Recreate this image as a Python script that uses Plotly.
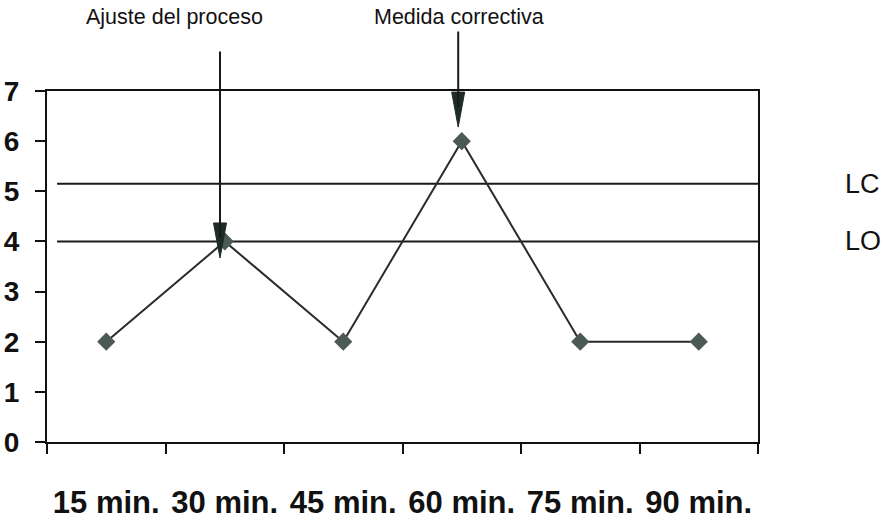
import plotly.graph_objects as go

categories = ["15 min.", "30 min.", "45 min.", "60 min.", "75 min.", "90 min."]
values = [2, 4, 2, 6, 2, 2]
y_ticks = [0, 1, 2, 3, 4, 5, 6, 7]
lc_value = 5.15
lo_value = 4.0
annot_texts = ["Ajuste del proceso", "Medida correctiva"]

FONT = "Liberation Sans, Arial, sans-serif"

fig = go.Figure()
fig.add_trace(go.Scatter(
    x=categories, y=values, mode="lines+markers",
    line=dict(color="#2b2b2b", width=2),
    marker=dict(symbol="diamond", size=14, color="#4b5a55"),
    showlegend=False, cliponaxis=False,
))

# Control lines (LC, LO)
for val, name in [(lc_value, "LC"), (lo_value, "LO")]:
    fig.add_shape(type="line", xref="x", yref="y", x0=-0.415, x1=6.06, y0=val, y1=val,
                  line=dict(color="#1a1a1a", width=2), layer="below")
    fig.add_annotation(x=1.12, xref="paper", y=val, yref="y", text=name, showarrow=False,
                       xanchor="left", yanchor="middle",
                       font=dict(family=FONT, size=27, color="#111111"))

# Annotation texts
fig.add_annotation(x=0.179, xref="paper", y=1.211, yref="paper", text=annot_texts[0],
                   showarrow=False, xanchor="center", yanchor="middle",
                   font=dict(family=FONT, size=21.5, color="#111111"))
fig.add_annotation(x=0.579, xref="paper", y=1.211, yref="paper", text=annot_texts[1],
                   showarrow=False, xanchor="center", yanchor="middle",
                   font=dict(family=FONT, size=21.5, color="#111111"))

# Arrows: shaft (annotation) + narrow head (pixel-sized path)
arrows = [(0.96, 3.67, -208), (2.97, 6.28, -97)]
for ax_x, tip_y, shaft in arrows:
    fig.add_annotation(x=ax_x, xref="x", y=tip_y, yref="y", text="", showarrow=True,
                       ax=0, ay=shaft, arrowhead=0, arrowwidth=2, arrowcolor="#1a1a1a",
                       standoff=20)
    fig.add_shape(type="path", xref="x", yref="y",
                  xsizemode="pixel", ysizemode="pixel", xanchor=ax_x, yanchor=tip_y,
                  path="M -6.5 35 L 6.5 35 L 0 0 Z",
                  fillcolor="#1f2b27", line=dict(color="#1f2b27", width=1))

fig.update_xaxes(
    type="category", range=[-0.5, 5.5], tickson="boundaries",
    ticks="outside", ticklen=10, tickwidth=2, tickcolor="#111111",
    showline=True, linecolor="#111111", linewidth=2, mirror=True,
    showgrid=False, zeroline=False, automargin=False,
    tickfont=dict(family=FONT, size=31, color="#111111", weight="bold"),
    ticklabelstandoff=32,
)
fig.update_yaxes(
    range=[0, 7], tickvals=y_ticks,
    ticks="outside", ticklen=10, tickwidth=2, tickcolor="#111111",
    showline=True, linecolor="#111111", linewidth=2, mirror=True,
    showgrid=False, zeroline=False, automargin=False,
    tickfont=dict(family=FONT, size=28, color="#111111", weight="bold"),
    ticklabelstandoff=10,
)
fig.update_layout(
    width=884, height=523,
    margin=dict(l=47, r=126, t=91, b=81),
    paper_bgcolor="white", plot_bgcolor="white",
)
fig.write_html("out.html", config={"displayModeBar": False},
               post_script="document.body.style.margin='0';")
